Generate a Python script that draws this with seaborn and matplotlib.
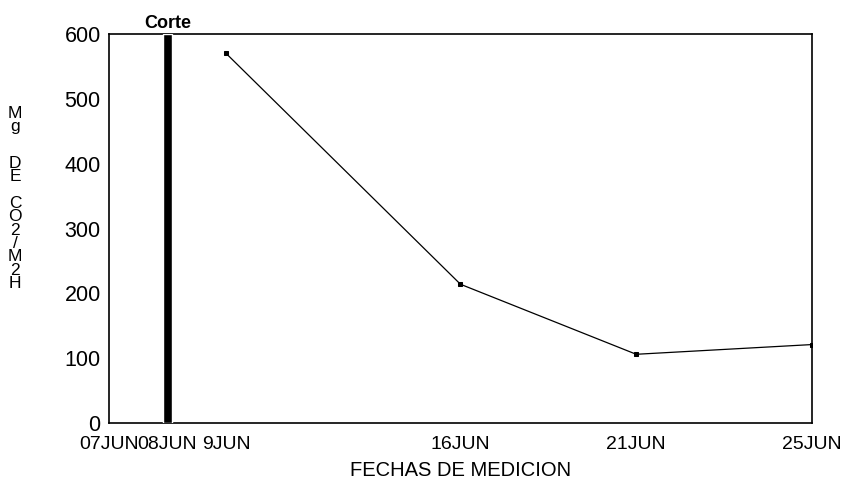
import matplotlib
matplotlib.use("Agg")
import matplotlib.pyplot as plt
import seaborn as sns
import pandas as pd

# Eje de fechas (posiciones equiespaciadas) y mediciones
etiquetas_x = ["07JUN", "08JUN", "9JUN", "", "", "", "16JUN", "", "", "21JUN", "", "", "25JUN"]
fechas = ["9JUN", "16JUN", "21JUN", "25JUN"]
co2 = [570, 214, 106, 121]
fecha_corte = "08JUN"
altura_corte = 600
yticks = [0, 100, 200, 300, 400, 500, 600]

sns.set_theme(style="white")
plt.rcParams["font.family"] = ["Liberation Sans", "DejaVu Sans"]

fig = plt.figure(figsize=(8.46, 4.83), dpi=100)
ax = fig.add_axes([0.1288, 0.1242, 0.8310, 0.8054])

df = pd.DataFrame({"pos": [etiquetas_x.index(f) for f in fechas], "co2": co2})

# barra que marca el corte
ax.bar(etiquetas_x.index(fecha_corte), altura_corte, width=0.14, color="black",
       zorder=3)

sns.lineplot(data=df, x="pos", y="co2", ax=ax, color="black", linewidth=0.9,
             marker="s", markersize=3.5, markeredgecolor="black", zorder=4)

ax.set_xlim(0, len(etiquetas_x) - 1)
ax.set_ylim(0, 600)
ax.set_xticks(range(len(etiquetas_x)))
ax.set_xticklabels(etiquetas_x, fontsize=14)
ax.set_yticks(yticks)
ax.set_yticklabels([str(v) for v in yticks], fontsize=15.5)
ax.tick_params(axis="both", direction="in", length=6, width=1.0, color="black",
               labelcolor="black")
ax.tick_params(axis="x", pad=9)
ax.tick_params(axis="y", pad=6)

for s in ax.spines.values():
    s.set_visible(True)
    s.set_color("black")
    s.set_linewidth(1.2)

ax.set_xlabel("FECHAS DE MEDICION", fontsize=14.5, color="black", labelpad=6)
ax.set_ylabel("")

ax.text(etiquetas_x.index(fecha_corte), 1.004, "Corte", transform=ax.get_xaxis_transform(),
        ha="center", va="bottom", fontsize=13, fontweight="bold", color="black")

# rótulo vertical, letra por letra
for txt, ytop in [("M\ng", 106), ("D\nE", 156), ("C\nO\n2\n/\nM\n2\nH", 196)]:
    fig.text(15 / 846, 1 - ytop / 483, txt, ha="center", va="top", fontsize=12.5,
             linespacing=0.86, color="black")

fig.savefig("out.png", dpi=100, facecolor="white")
